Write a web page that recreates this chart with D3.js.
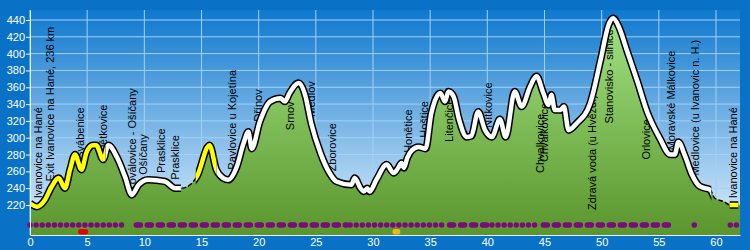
<!DOCTYPE html>
<html>
<head>
<meta charset="utf-8">
<script src="https://cdn.jsdelivr.net/npm/d3@7"></script>
<style>
  body { margin: 0; background: #0a72c6; }
  svg { display: block; font-family: Arial, "Liberation Sans", sans-serif; }
  .axis text { fill: #fff; font-size: 11px; }
  .axis path, .axis line { stroke: #e8f4ff; }
  .place { font-size: 11px; fill: #000; }
</style>
</head>
<body>
<div id="chart"></div>
<script>
// elevation profile (km, m)
const km = [0, 0.6, 1.3, 1.9, 2.5, 3.06, 3.5, 3.94, 4.5, 4.96, 5.5, 5.8, 6.4, 6.85, 7.6, 8.3, 8.9, 9.5, 10.35, 11.8,
  12.7, 13.3, 14.0, 14.6, 15.7, 16.3, 16.9, 17.35, 18.1, 18.67, 19.1, 19.4, 20.1, 21.0, 21.9, 22.3, 22.7, 23.5, 24.06, 24.6,
  25.4, 26.2, 26.8, 28.1, 28.4, 28.9, 29.2, 29.5, 29.7, 30.3, 31.2, 31.8, 32.2, 32.5, 32.7, 33.0, 33.4, 34.0, 34.6, 35.1,
  35.9, 36.3, 36.6, 37.05, 37.5, 38.2, 38.6, 39.2, 39.8, 40.4, 41.1, 41.6, 42.4, 43.0, 43.75, 44.3, 44.9, 45.35, 45.6, 45.9,
  46.4, 46.7, 47.1, 47.8, 49.0, 49.9, 50.6, 51.0, 51.5, 52.2, 53.1, 54.0, 55.1, 56.0, 56.4, 56.7, 57.3, 57.9, 58.6, 59.5,
  59.9, 60.7, 61.25, 62.1]
const elev = [222, 218, 226, 242, 252, 240, 262, 280, 262, 283, 291, 291, 274, 291, 277, 254, 232, 244, 250, 248,
  240, 240, 244, 254, 291, 262, 252, 250, 266, 293, 307, 287, 319, 343, 347, 343, 353, 365, 351, 317,
  282, 258, 248, 244, 252, 240, 236, 240, 236, 250, 268, 258, 264, 270, 264, 276, 285, 289, 287, 329,
  353, 343, 355, 349, 323, 301, 302, 331, 309, 301, 322, 301, 355, 337, 361, 373, 353, 339, 351, 333,
  333, 337, 309, 317, 341, 392, 434, 442, 432, 404, 368, 330, 299, 280, 280, 295, 278, 256, 242, 238,
  228, 224, 220, 220]

// line styling per stretch of the route
const stretches = [
  {from: 0, to: 6.6, style: "yellow"},
  {from: 6.6, to: 13.2, style: "white"},
  {from: 13.2, to: 14.5, style: "thin"},
  {from: 14.5, to: 16.3, style: "yellow"},
  {from: 16.3, to: 59.6, style: "white"},
  {from: 59.6, to: 61.2, style: "thin"},
  {from: 61.2, to: 61.95, style: "yellow"}
]

// track markers along the bottom
const dotRuns = [
  {from: 0, to: 8.5, kind: "dot"},
  {from: 9.3, to: 27.7, kind: "dash"},
  {from: 28.0, to: 36.4, kind: "dot"},
  {from: 36.7, to: 40.1, kind: "dash"},
  {from: 40.4, to: 44.6, kind: "dot"},
  {from: 44.9, to: 56.4, kind: "dash"},
  {from: 58.1, to: 58.1, kind: "dot"},
  {from: 61.25, to: 61.85, kind: "dot"}
]
const marks = [{from: 4.2, to: 5.1, color: "#e80000"}, {from: 31.7, to: 32.4, color: "#f4b41c"}]

// place names: km, elevation where the text starts
const places = [
  ["Ivanovice na Hané", 0.73, 228],
  ["Exit Ivanovice na Hané, 236 km", 1.75, 248],
  ["Švábenice", 4.37, 275],
  ["Dětkovice", 6.41, 282],
  ["Koválovice - Ošíčany", 8.9, 236],
  ["Ošíčany", 9.91, 256],
  ["Prasklice", 11.46, 258],
  ["Prasklice", 12.69, 250],
  ["Pavlovice u Kojetína", 17.65, 262],
  ["Dřínov", 19.92, 319],
  ["Srnov", 22.75, 309],
  ["Medlov", 24.56, 325],
  ["Zborovice", 26.4, 260],
  ["Honětice", 33.04, 282],
  ["Hoštice", 34.5, 300],
  ["Litenčice", 36.66, 295],
  ["Nítkovice", 40.1, 312],
  ["Chvalkovice", 44.62, 258],
  ["Chvalkovice", 44.97, 271],
  ["Zdravá voda (u Hvězd.)", 49.14, 214],
  ["Stanovisko - silnice", 50.66, 317],
  ["Orlovice", 53.9, 274],
  ["Moravské Málkovice", 56.08, 285],
  ["Medlovice (u Ivanovic n. H.)", 58.18, 255],
  ["Ivanovice na Hané", 61.53, 228]
]

const yTicks = [220, 240, 260, 280, 300, 320, 340, 360, 380, 400, 420, 440]
const xTicks = [0, 5, 10, 15, 20, 25, 30, 35, 40, 45, 50, 55, 60]

const W = 750, H = 250
const margin = {top: 10, right: 10, bottom: 15, left: 30}
const width = W - margin.left - margin.right,
  height = H - margin.top - margin.bottom

const data = km.map((k, i) => ({km: k, m: elev[i]}))

const svg = d3.select("#chart").append("svg")
  .attr("width", W)
  .attr("height", H)

svg.append("rect").attr("width", W).attr("height", H).attr("fill", "#0a72c6")

const defs = svg.append("defs")
const sky = defs.append("linearGradient").attr("id", "sky")
  .attr("x1", 0).attr("y1", 0).attr("x2", 0).attr("y2", 1)
sky.append("stop").attr("offset", "0%").attr("stop-color", "#0f78ce")
sky.append("stop").attr("offset", "100%").attr("stop-color", "#e2f1fd")
const grass = defs.append("linearGradient").attr("id", "grass")
  .attr("gradientUnits", "userSpaceOnUse")
  .attr("x1", 0).attr("y1", 0).attr("x2", 0).attr("y2", height)
grass.append("stop").attr("offset", "0%").attr("stop-color", "#a4e486")
grass.append("stop").attr("offset", "100%").attr("stop-color", "#5a962c")

const g = svg.append("g")
  .attr("transform", "translate(" + margin.left + "," + margin.top + ")")

const x = d3.scaleLinear().domain([0, 62.1]).range([0, width])
const y = d3.scaleLinear().domain([184.3, 451.9]).range([height, 0])

g.append("rect").attr("width", width).attr("height", height).attr("fill", "url(#sky)")

// grid
g.selectAll(".vgrid").data(xTicks).enter().append("line")
  .attr("x1", d => x(d)).attr("x2", d => x(d))
  .attr("y1", 0).attr("y2", height)
  .attr("stroke", "#9fd2fa").attr("stroke-width", 1)
g.selectAll(".hgrid").data(yTicks).enter().append("line")
  .attr("x1", 0).attr("x2", width)
  .attr("y1", d => y(d)).attr("y2", d => y(d))
  .attr("stroke", "#9fd2fa").attr("stroke-width", 1)

const curve = d3.curveMonotoneX
const area = d3.area().x(d => x(d.km)).y0(height).y1(d => y(d.m)).curve(curve)
const line = d3.line().x(d => x(d.km)).y(d => y(d.m)).curve(curve)

g.append("path").datum(data).attr("d", area).attr("fill", "url(#grass)")

// place labels (under the line)
g.selectAll(".place").data(places).enter().append("text")
  .attr("class", "place")
  .attr("transform", d => "translate(" + x(d[1]) + "," + y(d[2]) + ") rotate(-90)")
  .attr("dy", "0.36em")
  .text(d => d[0])

// profile line, one clip per stretch
stretches.forEach((s, i) => {
  defs.append("clipPath").attr("id", "clip" + i)
    .append("rect")
    .attr("x", x(s.from)).attr("width", x(s.to) - x(s.from))
    .attr("y", -10).attr("height", height + 20)
  const seg = g.append("g").attr("clip-path", "url(#clip" + i + ")")
  if (s.style == "thin") {
    seg.append("path").datum(data).attr("d", line)
      .attr("fill", "none").attr("stroke", "#000").attr("stroke-width", 1.4)
      .attr("stroke-dasharray", "5,2")
  } else {
    seg.append("path").datum(data).attr("d", line)
      .attr("fill", "none").attr("stroke", "#000").attr("stroke-width", 7.5)
      .attr("stroke-linejoin", "round")
    seg.append("path").datum(data).attr("d", line)
      .attr("fill", "none").attr("stroke", s.style == "yellow" ? "#ffff00" : "#fff")
      .attr("stroke-width", 4.5).attr("stroke-linejoin", "round")
  }
})

// track dots and dashes
const dotY = 215
g.selectAll(".run").data(dotRuns).enter().append("line")
  .attr("x1", d => x(d.from)).attr("x2", d => x(d.to) + 0.01)
  .attr("y1", dotY).attr("y2", dotY)
  .attr("stroke", "#7a0a7e")
  .attr("stroke-linecap", "round")
  .attr("stroke-width", 5.5)
  .attr("stroke-dasharray", d => d.kind == "dot" ? "0,6.1" : "4,7")

g.selectAll(".mark").data(marks).enter().append("rect")
  .attr("x", d => x(d.from)).attr("width", d => x(d.to) - x(d.from))
  .attr("y", 219).attr("height", 5.5).attr("rx", 2.7)
  .attr("fill", d => d.color)

// axes
g.append("g").attr("class", "axis")
  .attr("transform", "translate(0," + height + ")")
  .call(d3.axisBottom(x).tickValues(xTicks).tickSize(0).tickPadding(3).tickFormat(d3.format("d")))
g.append("g").attr("class", "axis")
  .call(d3.axisLeft(y).tickValues(yTicks).tickSize(4).tickPadding(1).tickSizeOuter(0))
</script>
</body>
</html>
